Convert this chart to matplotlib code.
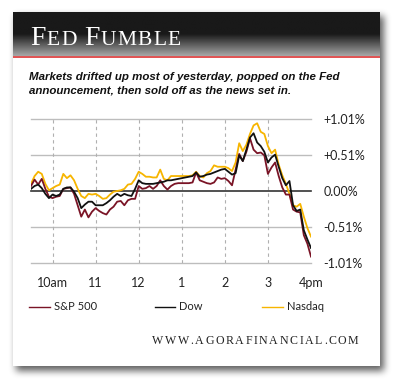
import matplotlib
matplotlib.use('Agg')
import matplotlib.pyplot as plt
import numpy as np
from matplotlib.patches import Rectangle

# ---------------- data (percent change, 5-minute steps from 9:30 to 16:00) ----------------
sp500 = [0.07, 0.16, 0.09, 0.17, 0.03, -0.08, -0.10, -0.08, -0.07, 0.03, 0.04, 0.05,
         -0.04, -0.20, -0.36, -0.26, -0.37, -0.29, -0.24, -0.28, -0.31, -0.33, -0.26, -0.22,
         -0.15, -0.14, -0.20, -0.13, -0.11, -0.11, 0.07, 0.03, 0.04, 0.07, 0.03, 0.07,
         0.15, 0.07, 0.02, 0.07, 0.10, 0.11, 0.11, 0.11, 0.11, 0.12, 0.26, 0.15,
         0.13, 0.11, 0.10, 0.12, 0.19, 0.17, 0.18, 0.14, 0.08, 0.30, 0.52, 0.42,
         0.55, 0.74, 0.58, 0.53, 0.54, 0.50, 0.24, 0.33, 0.40, 0.21, 0.05, -0.05,
         -0.05, -0.26, -0.29, -0.30, -0.62, -0.74, -0.92]
dow = [0.03, 0.07, 0.09, 0.04, -0.04, -0.10, -0.05, -0.07, -0.05, 0.03, 0.05, 0.05,
       -0.01, -0.10, -0.24, -0.19, -0.15, -0.15, -0.20, -0.20, -0.20, -0.17, -0.13, -0.08,
       -0.04, -0.07, -0.04, -0.06, -0.07, 0.03, 0.15, 0.11, 0.10, 0.10, 0.10, 0.11,
       0.12, 0.13, 0.15, 0.15, 0.16, 0.17, 0.18, 0.19, 0.20, 0.21, 0.26, 0.20,
       0.21, 0.23, 0.24, 0.26, 0.28, 0.30, 0.31, 0.27, 0.23, 0.25, 0.50, 0.42,
       0.58, 0.75, 0.81, 0.68, 0.63, 0.55, 0.40, 0.47, 0.51, 0.34, 0.18, 0.08,
       0.14, -0.20, -0.28, -0.26, -0.55, -0.68, -0.80]
nasdaq = [0.10, 0.21, 0.27, 0.24, 0.10, 0.01, 0.04, 0.07, 0.09, 0.24, 0.18, 0.22,
          0.15, 0.03, -0.07, -0.10, -0.04, -0.05, -0.04, -0.07, -0.11, -0.10, -0.05, -0.01,
          0.00, 0.01, 0.03, 0.09, 0.10, 0.17, 0.27, 0.24, 0.20, 0.20, 0.19, 0.19,
          0.30, 0.17, 0.15, 0.21, 0.21, 0.21, 0.21, 0.21, 0.21, 0.22, 0.27, 0.21,
          0.19, 0.25, 0.28, 0.36, 0.34, 0.34, 0.34, 0.32, 0.28, 0.40, 0.67, 0.56,
          0.65, 0.80, 0.92, 0.95, 0.83, 0.80, 0.63, 0.53, 0.58, 0.37, 0.22, 0.10,
          -0.04, -0.20, -0.22, -0.18, -0.36, -0.52, -0.64]
series_names = ['S&P 500', 'Dow', 'Nasdaq']
hour_ticks = [10, 11, 12, 13, 14, 15, 16]
hour_labels = ['10am', '11', '12', '1', '2', '3', '4pm']
pct_ticks = [1.01, 0.51, 0.0, -0.51, -1.01]
pct_labels = ['+1.01%', '+0.51%', '0.00%', '-0.51%', '-1.01%']
title_parts = [('F', 'big'), ('ED', 'small'), (' ', 'gap'), ('F', 'big'), ('UMBLE', 'small')]
subtitle = ['Markets drifted up most of yesterday, popped on the Fed',
            'announcement, then sold off as the news set in.']
website = 'WWW.AGORAFINANCIAL.COM'

colors = ['#7a1426', '#111111', '#f7b500']

# ---------------- figure ----------------
W, H = 399, 389
fig = plt.figure(figsize=(W / 100, H / 100), dpi=100)
fig.patch.set_facecolor('white')
bg = fig.add_axes([0, 0, 1, 1])
bg.set_xlim(0, W)
bg.set_ylim(H, 0)
bg.axis('off')

cx0, cy0, cx1, cy1 = 13, 12, 380, 366

# blurred drop shadow
yy, xx = np.mgrid[0:H, 0:W]
mask = ((xx >= cx0 + 3) & (xx < cx1 + 4) & (yy >= cy0 + 4) & (yy < cy1 + 5)).astype(float)
k = np.ones(7) / 7
for _ in range(3):
    mask = np.apply_along_axis(lambda m: np.convolve(m, k, 'same'), 0, mask)
    mask = np.apply_along_axis(lambda m: np.convolve(m, k, 'same'), 1, mask)
shadow = 1 - 0.62 * mask
bg.imshow(shadow, cmap='gray', vmin=0, vmax=1, extent=[0, W, H, 0], aspect='auto',
          interpolation='bilinear', zorder=0)

bg.add_patch(Rectangle((cx0, cy0), cx1 - cx0, cy1 - cy0, facecolor='white',
                       edgecolor='none', zorder=1))

# header gradient
hy1 = 56
rows = np.linspace(0, 1, 60)
vals = np.where(rows < 0.5, 0.10, 0.10 + (rows - 0.5) / 0.5 * 0.55)
grad = np.tile(vals[:, None], (1, 10))
bg.imshow(grad, cmap='gray', vmin=0, vmax=1, extent=[cx0, cx1, hy1, cy0], aspect='auto',
          interpolation='bilinear', zorder=2)
bg.add_patch(Rectangle((cx0, hy1), cx1 - cx0, 2.2, facecolor='#e05555', edgecolor='none', zorder=3))

renderer = fig.canvas.get_renderer()

# title in small caps (letter-spaced)
x = 30
sizes = {'big': 20, 'small': 15.5}
for s, kind in title_parts:
    if kind == 'gap':
        x += 6
        continue
    for ch in s:
        t = bg.text(x, 44.5, ch, fontsize=sizes[kind], color='white', family='Liberation Serif',
                    ha='left', va='baseline', zorder=5)
        x += t.get_window_extent(renderer).width + 1.3

# subtitle
for i, line in enumerate(subtitle):
    bg.text(29, 79.5 + i * 14, line, fontsize=8.25, fontweight='bold', fontstyle='italic',
            family='Liberation Sans', color='#111111', ha='left', va='baseline', zorder=5)

# legend
leg_x = [(29, 50, 54), (155, 175, 179), (262, 283, 287)]
for (lx0, lx1, tx), name, c in zip(leg_x, series_names, colors):
    bg.plot([lx0, lx1], [307, 307], color=c, lw=1.0, zorder=5)
    bg.text(tx, 307, name, fontsize=8, family='Lato', color='#222222', ha='left',
            va='center', zorder=5)

# website with letter spacing
x = 152
for ch in website:
    t = bg.text(x, 344, ch, fontsize=8.6, family='Liberation Serif', color='#222222',
                ha='left', va='baseline', zorder=5)
    x += t.get_window_extent(renderer).width + 1.6

# ---------------- chart ----------------
ax = fig.add_axes([31 / W, 1 - 263 / H, 280 / W, 144 / H])
ax.set_zorder(6)
ax.patch.set_alpha(0)
times = 9.5 + np.arange(len(sp500)) / 12.0
ax.set_xlim(9.5, 16)
ax.set_ylim(-1.01, 1.01)
for sp in ax.spines.values():
    sp.set_visible(False)

for v in pct_ticks:
    if v == 0:
        ax.axhline(v, color='#333333', lw=1.2, zorder=2, clip_on=False)
    else:
        ax.axhline(v, color='#bdbdbd', lw=1.0, zorder=1, clip_on=False)
for h in hour_ticks[:-1]:
    ax.axvline(h, color='#b0b0b0', lw=0.8, ls=(0, (3, 3)), zorder=1)

ax.plot(times, nasdaq, color=colors[2], lw=1.3, zorder=3)
ax.plot(times, sp500, color=colors[0], lw=1.3, zorder=4)
ax.plot(times, dow, color=colors[1], lw=1.3, zorder=5)

ax.set_xticks(hour_ticks)
ax.set_xticklabels(hour_labels, family='Lato', fontsize=9, color='#222222')
ax.tick_params(axis='x', length=0, pad=10)
ax.yaxis.tick_right()
ax.set_yticks(pct_ticks)
ax.set_yticklabels(pct_labels, family='Lato', fontsize=9, color='#222222')
ax.tick_params(axis='y', length=0, pad=9)

fig.savefig('out.png', dpi=100)
